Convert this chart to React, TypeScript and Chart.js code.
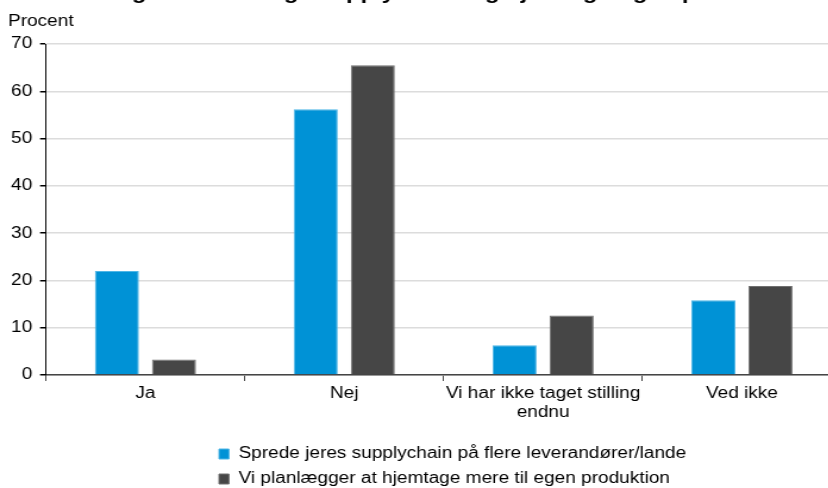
import React, { useEffect, useRef } from "react";
import { Chart, registerables } from "chart.js";

Chart.register(...registerables);

const TITLE = "Holdninger til ændring i supply chain og hjemtagning af produktion";
const Y_UNIT = "Procent";
const categories: (string | string[])[] = [
  "Ja",
  "Nej",
  ["Vi har ikke taget stilling", "endnu"],
  "Ved ikke",
];
const seriesNames = [
  "Sprede jeres supplychain på flere leverandører/lande",
  "Vi planlægger at hjemtage mere til egen produktion",
];
const spredeValues = [22.0, 56.2, 6.3, 15.8];
const hjemtageValues = [3.3, 65.5, 12.6, 18.8];
const yMin = 0;
const yMax = 70;
const yStep = 10;

const FONT = "'Liberation Sans', Arial, Helvetica, sans-serif";
// horizontal stretch of the whole picture (text in the reference is wide)
const SX = 1.19;
const CW = 707;
const CH = 522;
const TOP = -25;

const legendLeft = {
  id: "legendLeft",
  afterLayout(chart: any) {
    if (chart.legend) {
      chart.legend.left = 175;
    }
  },
};

export default function App() {
  const ref = useRef<HTMLCanvasElement | null>(null);

  useEffect(() => {
    if (!ref.current) return;
    const chart = new Chart(ref.current, {
      type: "bar",
      data: {
        labels: categories,
        datasets: [
          {
            label: seriesNames[0],
            data: spredeValues,
            backgroundColor: "#0092D6",
            borderColor: "#4FB6E6",
            borderWidth: 1,
            categoryPercentage: 0.574,
            barPercentage: 0.772,
          },
          {
            label: seriesNames[1],
            data: hjemtageValues,
            backgroundColor: "#464646",
            borderColor: "#707070",
            borderWidth: 1,
            categoryPercentage: 0.574,
            barPercentage: 0.772,
          },
        ],
      },
      plugins: [legendLeft],
      options: {
        responsive: false,
        animation: false,
        layout: { padding: { left: 6.72, right: 0, top: 0, bottom: 0 } },
        plugins: {
          tooltip: { enabled: false },
          title: {
            display: true,
            text: TITLE,
            color: "#000",
            font: { family: FONT, size: 20, weight: "bold", lineHeight: 1.2 },
            padding: { top: 6.6, bottom: 0 },
          },
          subtitle: {
            display: true,
            text: Y_UNIT,
            align: "start",
            color: "#000",
            font: { family: FONT, size: 16, lineHeight: 1.2 },
            padding: { top: 6.3, bottom: 12.9 },
          },
          legend: {
            position: "bottom",
            align: "start",
            fullSize: false,
            labels: {
              color: "#000",
              font: { family: FONT, size: 16 },
              boxWidth: 8.4,
              boxHeight: 10,
              padding: 9,
            },
          },
        },
        scales: {
          x: {
            offset: true,
            border: { display: true, color: "#454545", width: 1.5 },
            grid: {
              offset: true,
              display: true,
              drawOnChartArea: false,
              drawTicks: true,
              tickLength: 6,
              tickColor: "#454545",
            },
            ticks: {
              color: "#000",
              font: { family: FONT, size: 16, lineHeight: 1.2 },
              padding: 3,
              maxRotation: 0,
              autoSkip: false,
            },
            afterFit: (scale: any) => {
              scale.height = 62;
            },
          },
          y: {
            min: yMin,
            max: yMax,
            border: { display: true, color: "#000", width: 1 },
            grid: {
              color: "#dcdcdc",
              lineWidth: 1.5,
              drawTicks: true,
              tickLength: 5,
              tickColor: "#000",
            },
            ticks: {
              stepSize: yStep,
              color: "#000",
              font: { family: FONT, size: 16 },
              padding: 6.5,
            },
            afterFit: (scale: any) => {
              scale.width = 31.94;
            },
          },
        },
      },
    });
    return () => chart.destroy();
  }, []);

  return (
    <div
      style={{
        position: "fixed",
        left: 0,
        top: 0,
        width: "828px",
        height: "488px",
        overflow: "hidden",
        background: "#fff",
      }}
    >
      <div style={{ position: "absolute", left: 0, top: TOP, width: CW, height: CH }}>
        <canvas
          ref={ref}
          width={CW}
          height={CH}
          style={{ transform: `scaleX(${SX})`, transformOrigin: "0 0", display: "block" }}
        />
      </div>
    </div>
  );
}
